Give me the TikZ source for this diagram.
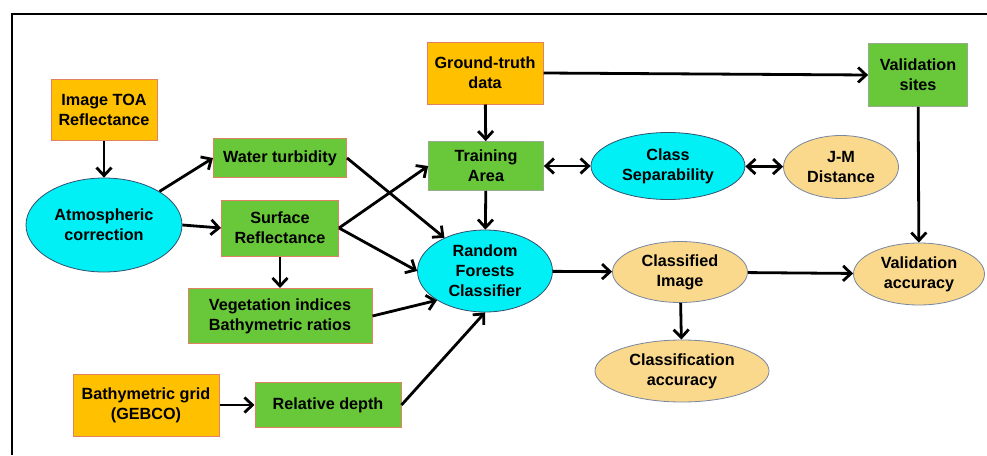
\documentclass[tikz,border=0pt]{standalone}
\usepackage{fontspec}
\setmainfont{Liberation Sans}
\usepackage{tikz}
\usetikzlibrary{arrows.meta}
\usetikzlibrary{shapes.geometric}

\definecolor{srcorange}{RGB}{255,192,0}
\definecolor{srcedge}{RGB}{226,128,100}
\definecolor{procgreen}{RGB}{104,200,58}
\definecolor{palegreen}{RGB}{150,170,140}
\definecolor{cyanfill}{RGB}{0,240,245}
\definecolor{cyanedge}{RGB}{50,80,110}
\definecolor{tanfill}{RGB}{250,216,140}
\definecolor{tanedge}{RGB}{120,135,160}

\begin{document}
\begin{tikzpicture}[x=1pt,y=-1pt,
    every node/.style={font=\fontsize{16.2}{20}\selectfont\bfseries, align=center, inner sep=0pt},
    srcbox/.style={rectangle, draw=srcedge, line width=1pt, fill=srcorange},
    procbox/.style={rectangle, draw=srcedge, line width=1pt, fill=procgreen},
    plainbox/.style={rectangle, draw=palegreen, line width=0.8pt, fill=procgreen},
    procell/.style={ellipse, draw=cyanedge, line width=0.8pt, fill=cyanfill},
    outell/.style={ellipse, draw=tanedge, line width=0.8pt, fill=tanfill},
    flow/.style={line width=2.8pt, -{Straight Barb[length=8pt,width=15pt]}},
    twoway/.style={line width=2.8pt, {Straight Barb[length=8pt,width=15pt]}-{Straight Barb[length=8pt,width=15pt]}}]
  \useasboundingbox (0,0) rectangle (987,455);
  \draw[line width=2pt] (12,455) -- (12,14) -- (987,14);

  % inputs
  \node[srcbox, minimum width=106, minimum height=61] (toa) at (104,110) {Image TOA\\Reflectance};
  \node[srcbox, minimum width=116, minimum height=62] (gt) at (485,73) {Ground-truth\\data};
  \node[srcbox, minimum width=146, minimum height=62] (grid) at (146,405) {Bathymetric grid\\(GEBCO)};

  % processing
  \node[procell, minimum width=156, minimum height=94] (atm) at (104,225) {Atmospheric\\correction};
  \node[procbox, minimum width=133, minimum height=39] (wturb) at (280,158) {Water turbidity};
  \node[procbox, minimum width=117, minimum height=56] (surf) at (280,228) {Surface\\Reflectance};
  \node[procbox, minimum width=184, minimum height=55] (veg) at (280,316) {Vegetation indices\\Bathymetric ratios};
  \node[procbox, minimum width=146, minimum height=45] (reld) at (328,405) {Relative depth};
  \node[plainbox, minimum width=115, minimum height=49] (train) at (486,166) {Training\\Area};
  \node[plainbox, minimum width=99, minimum height=63] (vsites) at (918,75) {Validation\\sites};
  \node[procell, minimum width=135, minimum height=82] (rf) at (485,271) {Random\\Forests\\Classifier};
  \node[procell, minimum width=154, minimum height=67] (csep) at (668,166) {Class\\Separability};

  % outputs
  \node[outell, minimum width=115, minimum height=63] (jm) at (841,167) {J-M\\Distance};
  \node[outell, minimum width=135, minimum height=61] (cimg) at (680,272) {Classified\\Image};
  \node[outell, minimum width=131, minimum height=62] (vacc) at (919,274) {Validation\\accuracy};
  \node[outell, minimum width=174, minimum height=62] (cacc) at (682,371) {Classification\\accuracy};

  \draw[flow] (toa) -- (atm);
  \draw[flow] (atm.north east) -- (wturb.west);
  \draw[flow] (atm.east) -- (surf.west);
  \draw[flow] (surf) -- (veg);
  \draw[flow] (surf.east) -- (train.west);
  \draw[flow] (surf.east) -- (rf.west);
  \draw[flow] (wturb.east) -- (rf);
  \draw[flow] (veg.east) -- (rf.south west);
  \draw[flow] (reld.east) -- (rf.south);
  \draw[flow] (grid) -- (reld);
  \draw[flow] (gt) -- (train);
  \draw[flow] (gt.east) -- (vsites.west);
  \draw[flow] (train) -- (rf);
  \draw[twoway] (train) -- (csep);
  \draw[twoway] (csep) -- (jm);
  \draw[flow] (rf) -- (cimg);
  \draw[flow] (cimg) -- (vacc);
  \draw[flow] (cimg) -- (cacc);
  \draw[flow] (vsites) -- (vacc);
\end{tikzpicture}
\end{document}
